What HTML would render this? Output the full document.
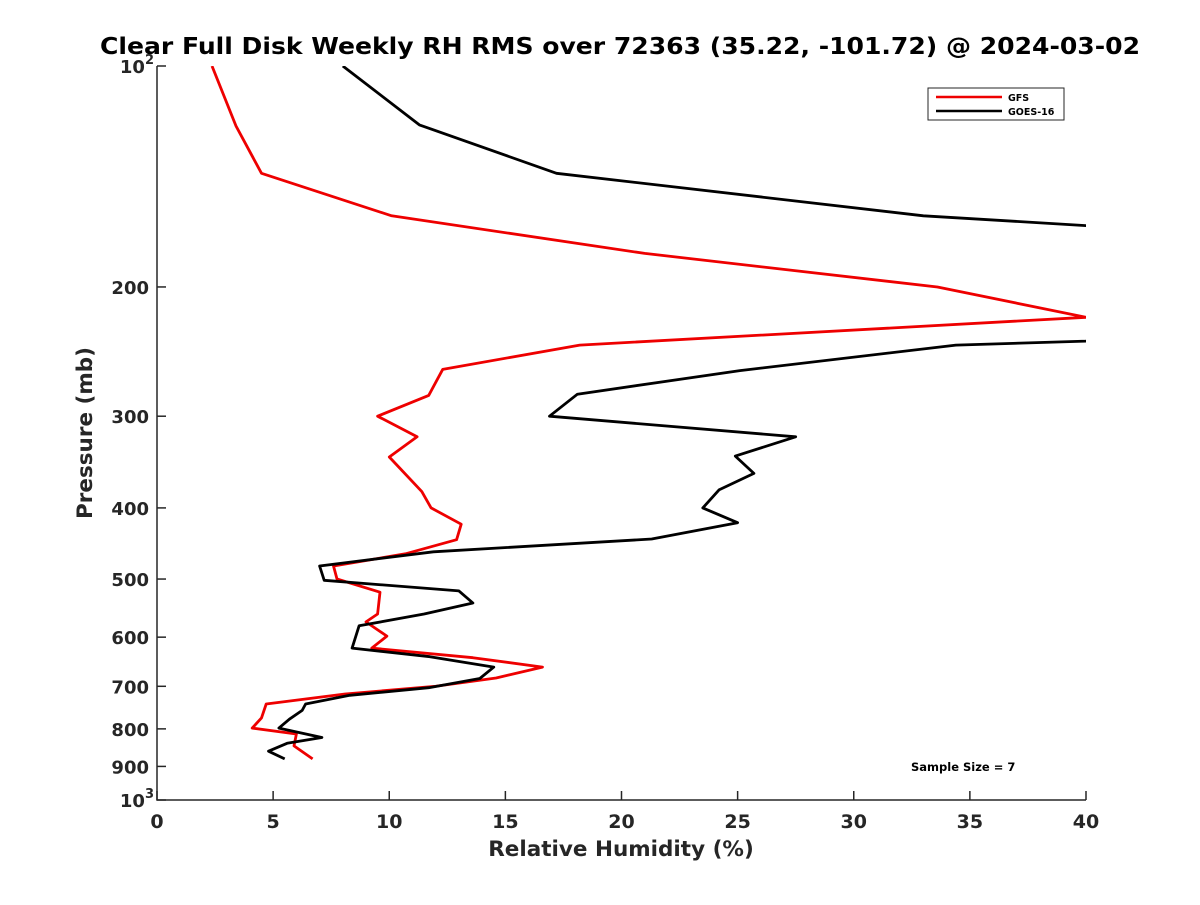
<!DOCTYPE html>
<html><head><meta charset="utf-8"><style>
html,body{margin:0;padding:0;background:#fff}
svg text{font-family:"DejaVu Sans","Liberation Sans",sans-serif;font-weight:bold;fill:#262626}
</style></head><body>
<svg id="chart" width="1200" height="900" xmlns="http://www.w3.org/2000/svg">
<defs><clipPath id="clip"><rect x="157" y="66" width="929" height="734"/></clipPath></defs>
<rect width="1200" height="900" fill="#fff"/>
<text x="100" y="54" font-size="23" textLength="1040" lengthAdjust="spacingAndGlyphs" style="fill:#000">Clear Full Disk Weekly RH RMS over 72363 (35.22, -101.72) @ 2024-03-02</text>
<g id="axes"></g>
<g id="lines" clip-path="url(#clip)"></g>
<text x="621" y="856" text-anchor="middle" font-size="21.5">Relative Humidity (%)</text>
<text transform="translate(92,433) rotate(-90)" text-anchor="middle" font-size="21.5">Pressure (mb)</text>
<g>
<rect x="928" y="88" width="136" height="32" fill="#fff" stroke="#262626" stroke-width="1"/>
<line x1="936" y1="97" x2="1002" y2="97" stroke="#e00" stroke-width="2.5"/>
<text x="1008" y="101" font-size="9.5" style="fill:#000">GFS</text>
<line x1="936" y1="111" x2="1002" y2="111" stroke="#000" stroke-width="2.5"/>
<text x="1008" y="115" font-size="9.5" style="fill:#000">GOES-16</text>
</g>
<text x="911" y="771" font-size="11.5" style="fill:#000">Sample Size = 7</text>
</svg>
<script>
const xTicks=[0,5,10,15,20,25,30,35,40];
const yTicks=[100,200,300,400,500,600,700,800,900,1000];
const gfsRH=[2.37,3.4,4.5,10.1,21.0,33.6,40,18.2,12.3,11.7,9.5,11.2,10.0,11.4,11.8,13.1,12.9,10.7,7.6,7.75,9.6,9.5,9.0,9.9,9.25,13.6,16.6,14.6,12.0,8.1,4.7,4.5,4.1,6.0,5.9,6.7];
const gfsP=[100,120.7,140,160,180,200,220,240,259,281,300,320,341,380,400,421,442,462,480,500,521,558,572,598,621,640,659,682,700,717,740,773,798,813,844,879];
const goesRH=[8.0,11.3,17.2,33.0,40,50,40,34.4,25.1,18.1,16.9,27.5,24.9,25.7,24.2,23.5,25.0,21.3,11.9,7.0,7.2,13.0,13.6,11.5,8.7,8.4,11.75,14.5,13.9,11.7,8.3,6.4,6.25,5.7,5.25,7.1,5.6,4.8,5.5];
const goesP=[100,120.3,140,160,165,200,237,240,260,280,300,320,340,359,378,400,419,441,459,480,502,519,539,558,579,621,638,659,683,703,720,740,755,776,798,822,837,858,879];
const X0=157,X1=1086,Y0=66,Y1=800;
const xs=v=>X0+(v-0)/(40-0)*(X1-X0);
const ys=p=>Y0+(Math.log10(p)-2)*(Y1-Y0);
const NS="http://www.w3.org/2000/svg";
const axes=document.getElementById('axes'),lines=document.getElementById('lines');
function mk(t,a,par){const e=document.createElementNS(NS,t);for(const k in a)e.setAttribute(k,a[k]);par.appendChild(e);return e;}
const ax=mk('path',{d:`M${X0},${Y0}V${Y1}H${X1}`,fill:'none',stroke:'#262626','stroke-width':1.5},axes);


xTicks.forEach(v=>{const x=xs(v);
const t=mk('line',{x1:x,y1:Y1,x2:x,y2:Y1-9,stroke:'#262626','stroke-width':1.5},axes);


const l=mk('text',{x:x,y:Y1+28,'text-anchor':'middle','font-size':19},axes);l.textContent=v;

});
yTicks.forEach(p=>{const y=ys(p);
const t=mk('line',{x1:X0,y1:y,x2:X0+9,y2:y,stroke:'#262626','stroke-width':1.5},axes);


const l=mk('text',{x:X0-8,y:y+7,'text-anchor':'end','font-size':18},axes);


if(p===100||p===1000){l.textContent='10';const s=mk('tspan',{dy:-9,'font-size':13},l);s.textContent=p===100?'2':'3';l.setAttribute('x',X0-3);}
else l.textContent=p;});
function line(v,p,c,name){const d=v.map((a,i)=>(i?'L':'M')+xs(a).toFixed(1)+','+ys(p[i]).toFixed(1)).join('');
const e=mk('path',{d:d,fill:'none',stroke:c,'stroke-width':2.8,'stroke-linejoin':'round'},lines);

}
line(gfsRH,gfsP,'#e00','gfs-line');
line(goesRH,goesP,'#000','goes16-line');
</script>
</body></html>
